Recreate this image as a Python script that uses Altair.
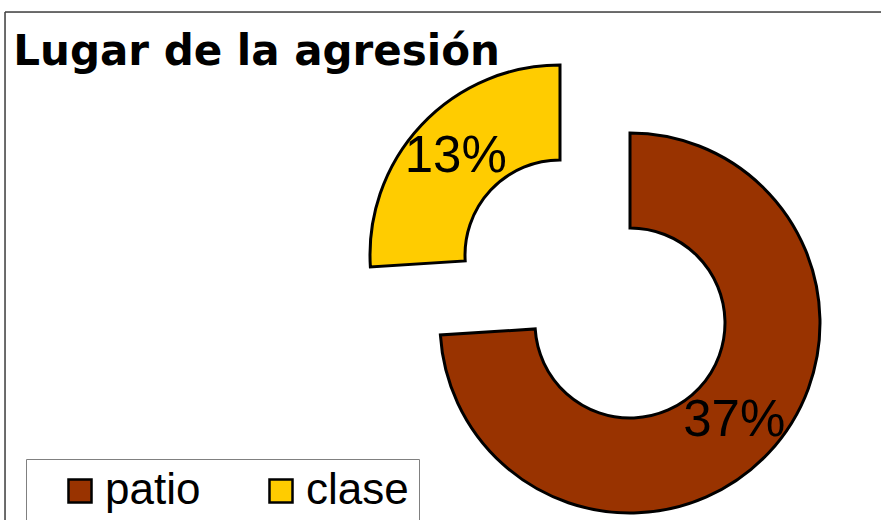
import math
import altair as alt
import pandas as pd

# ---- data ----
categories = ["patio", "clase"]
values = [37, 13]
labels = ["37%", "13%"]
colors = ["#993300", "#FFCC00"]
order = [0, 1]

df = pd.DataFrame({"lugar": categories, "valor": values, "etiqueta": labels, "orden": order})
total = sum(values)

W, H = 876, 508
CX, CY = 625, 311          # doughnut centre (plot-area pixels)
EXPLODE = {"patio": (0, 0), "clase": (-70, -68)}

base = alt.Chart(df).transform_window(
    fin="sum(valor)", sort=[alt.SortField("orden")], frame=[None, 0]
).transform_calculate(
    ini="datum.fin - datum.valor",
    mid="datum.fin - datum.valor / 2",
)

theta_scale = alt.Scale(domain=[0, total], range=[0, 2 * math.pi])
color = alt.Color(
    "lugar:N",
    scale=alt.Scale(domain=categories, range=colors),
    legend=alt.Legend(
        orient="none", legendX=21, legendY=447, direction="horizontal", title=None,
        symbolType="square", symbolSize=530, symbolStrokeColor="black", symbolStrokeWidth=2.5,
        labelFontSize=44, labelFont="Liberation Sans", labelColor="black",
        strokeColor="#808080", fillColor="white", padding=10, symbolOffset=22,
        columnPadding=36, labelOffset=3, labelLimit=300,
    ),
)

layers = []
for cat in categories:
    dx, dy = EXPLODE[cat]
    sub = base.transform_filter(alt.datum.lugar == cat)
    arc = sub.mark_arc(
        innerRadius=95, outerRadius=190, stroke="black", strokeWidth=3,
        xOffset=dx, yOffset=dy,
    ).encode(
        theta=alt.Theta("ini:Q", scale=theta_scale),
        theta2="fin:Q",
        color=color,
        x=alt.value(CX), y=alt.value(CY),
    )
    txt = sub.mark_text(
        radius=143, fontSize=51, font="Liberation Sans", color="black",
        xOffset=dx, yOffset=dy,
    ).encode(
        theta=alt.Theta("mid:Q", scale=theta_scale),
        text="etiqueta:N",
        x=alt.value(CX), y=alt.value(CY),
    )
    layers += [arc, txt]

frame_df = pd.DataFrame({"a": [0]})
top_edge = alt.Chart(frame_df).mark_rule(color="#404040", strokeWidth=1.5).encode(
    x=alt.value(0), x2=alt.value(W), y=alt.value(0))
left_edge = alt.Chart(frame_df).mark_rule(color="#404040", strokeWidth=1.5).encode(
    x=alt.value(0), y=alt.value(0), y2=alt.value(H))

chart = alt.layer(top_edge, left_edge, *layers).properties(
    width=W, height=H,
    title=alt.Title(
        "Lugar de la agresión", anchor="start", font="DejaVu Sans", fontSize=42,
        fontWeight="bold", color="black", baseline="alphabetic", offset=0, dx=9, dy=96,
    ),
    autosize=alt.AutoSizeParams(type="none"),
    padding={"left": 5, "top": 12, "right": 0, "bottom": 0},
).configure_view(stroke=None).configure(background="white")

chart.save("out.html", embed_options={"renderer": "svg", "actions": False})
